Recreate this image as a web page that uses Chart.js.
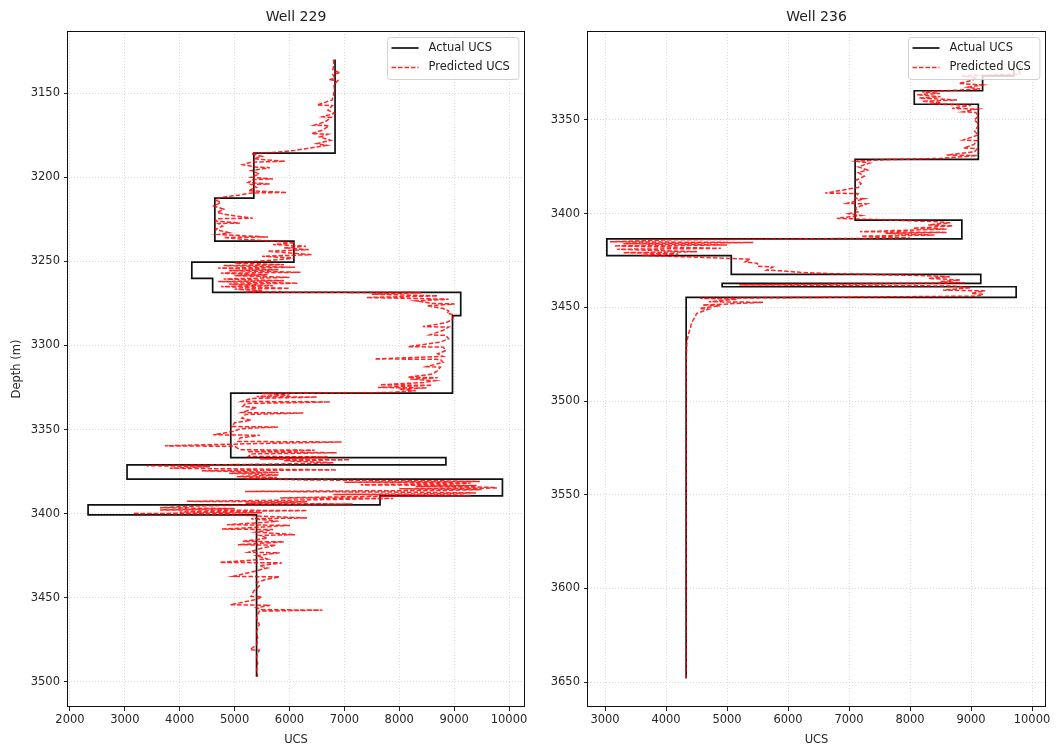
<!DOCTYPE html>
<html><head><meta charset="utf-8">
<script src="https://cdn.jsdelivr.net/npm/chart.js@4.4.1/dist/chart.umd.min.js"></script>
<style>
html,body{margin:0;padding:0;background:#fff;}
#w{position:relative;width:1059px;height:749px;overflow:hidden;}
.c{position:absolute;top:0;height:749px;}
</style></head><body>
<div id="w">
<div class="c" style="left:0;width:530px"><canvas id="c1" width="530" height="749"></canvas></div>
<div class="c" style="left:530px;width:529px"><canvas id="c2" width="529" height="749"></canvas></div>
</div>
<script>
// ---------- Well 229 ----------
const well229ActualDepth = [3130, 3185.6, 3212.4, 3238, 3250.4, 3260.1, 3268.4, 3282.2, 3328.4, 3366.7, 3371.0, 3379.5, 3389.5, 3394.8, 3400.7, 3497];
const well229ActualUcs   = [6830, 5350,   4640,   6080, 4220,   4600,   9120,   8970,   4930,   8850,   3040,   9880,   7650,   2330,   5400,   5400];

const well229PredDepth = [
 3130,3133,3136,3138,3138.4,3141,3142,3142.4,3145,3148,3151,3154,3157,3157.4,3160,3162,3164,3164.4,3167,3169,3169.4,3172,3174,3174.4,3176,3178,3180,3181,3183,3184,3185,3185.6,
 3186,3187.5,3189,3190.5,3191,3192.5,3194,3194.3,3196,3198,3200,3201,3201.3,3203,3204,3204.3,3206,3208,3209,3209.3,3210.5,3211.5,3212.4,
 3213.5,3215,3217,3219,3221,3222.5,3224.3,3224.6,3226,3227.2,3227.5,3229,3231,3233,3234,3235.5,3235.8,3237,3238,
 3239,3240,3241,3242,3243,3244,3245,3246,3247,3248,3249,3250,
 3251,3252,3252.5,3253.5,3254,3255,3255.5,3256.5,3257,3258,3258.5,3259.5,
 3260.5,3261.5,3262,3263,3263.5,3264.5,3265,3266,3266.5,3267.5,3268.2,
 3268.6,3269.5,3270.5,3271.5,3272.5,3273.5,3275,3275.3,3276.5,3278,3279.5,3280.7,3282,
 3284.8,3286.5,3288.8,3289.1,3291,3293.7,3294,3296,3298,3300.7,3301,3303,3305,3306.5,3308,3308.3,3310,3312.6,3312.9,3315,3317,3318.9,3319.2,3320,3321,3322,3323.4,3323.7,3325,3325.3,3326,3327,3328,
 3328.6,3329.5,3330.4,3330.7,3331.5,3333.3,3333.6,3334.5,3336.3,3337,3339.9,3340.2,3341,3343.2,3344.5,3346,3348.2,3348.5,3349.5,3351,3353.1,3353.4,3355,3357.1,3357.4,3358.5,3359.7,3360,3362,3362.3,3363.2,3363.8,3364.5,3366,3366.3,
 3367.5,3368,3368.5,3369.8,3370.5,
 3371.5,3372,3373,3374,3374.5,3375.5,3376,3377,3378,3378.5,3379.2,
 3380,3380.5,3380.9,3381.3,3381.8,3382.3,3382.9,3383.3,3383.8,3384.3,3384.8,3385.2,3385.7,3386.2,3386.8,3387.2,3387.7,3388.2,3388.6,3389,3389.3,
 3390,3390.7,3391,3392,3392.7,3393,3393.8,3394.3,3394.7,
 3395.5,3396.5,3397,3397.8,3398.2,3399,3399.5,3400,3400.4,
 3401.5,3402.6,3403,3404.5,3405.5,3406.6,3407,3408,3409.2,3409.5,3411,3412.5,3413,3414.5,3416.5,3416.8,3418.5,3418.8,3420.5,3423,3423.3,3425,3427,3429,3429.3,3431,3432.3,3434,3437.3,3437.6,3439.3,3441,3443,3446,3449.2,3449.5,3451,3454.2,3454.5,3456,3457.1,3457.4,3458,3462,3466,3470,3474,3478,3480.9,3481.2,3485,3489,3493,3497
];
const well229PredUcs = [
 6800,6810,6790,6920,6780,6830,6720,6880,6810,6820,6800,6780,6500,6780,6700,6820,6600,6760,6650,6450,6720,6600,6400,6700,6550,6750,6500,6680,6300,6100,5800,5400,
 5300,5500,5350,5920,5300,5150,5400,5640,5300,5450,5300,5700,5350,5250,5640,5300,5400,5250,5950,5300,5100,4850,4700,
 4650,4750,4620,4800,4680,4900,5330,4700,4650,5100,4700,4780,4650,4900,4700,5610,4800,5200,5700,
 6100,5700,6300,5900,6350,5600,6000,6400,5500,6100,5800,5400,
 5000,5900,4800,6100,4700,5800,4900,6200,4750,5600,5000,6000,
 4800,5900,4700,6150,4900,5700,4750,6000,5000,5500,5200,
 8400,7500,8700,7400,8900,8300,8600,9010,8500,8800,8900,8870,9000,
 8960,8850,8430,8900,8800,8560,8850,8900,8750,8160,8800,8850,8700,8800,7550,8750,8800,8500,8750,8700,8600,8160,8700,8200,8650,8450,7650,8600,7610,8500,8000,8300,7800,
 5500,6000,5400,6500,5300,5130,6740,5200,5150,5400,5130,6250,5200,5130,5300,5000,4950,5790,5100,5000,4610,5460,5100,5060,6950,5200,3730,5000,5100,6460,5230,6860,5300,5250,6700,
 5460,7100,5900,6800,5800,
 3400,4550,3820,6860,4400,5800,4900,5800,5040,5770,5200,
 6320,8800,9470,7000,9300,9000,7300,9410,8300,9650,9780,8000,9500,8900,5190,7880,9400,8600,6800,9100,9300,
 7000,5830,7890,6000,4130,6320,5200,7150,5500,
 4300,3640,5000,3640,6320,4000,5500,3150,4800,
 5500,6320,5300,5800,5400,4860,6010,5500,4770,5700,5400,6100,5450,5600,5150,5900,5060,5750,5500,5250,5820,5400,5600,4730,5860,5450,5600,5400,4970,5820,5550,5400,5450,5350,5300,5500,5400,4920,5650,5400,5500,6600,5450,5400,5450,5400,5420,5400,5280,5450,5400,5420,5400,5420
];
const well229XTicks = [2000, 3000, 4000, 5000, 6000, 7000, 8000, 9000, 10000];
const well229YTicks = [3150, 3200, 3250, 3300, 3350, 3400, 3450, 3500];

// ---------- Well 236 ----------
const well236ActualDepth = [3320, 3326.5, 3334.4, 3341.6, 3371.0, 3403.4, 3413.5, 3422.4, 3432.4, 3437.2, 3439.0, 3444.7, 3648];
const well236ActualUcs   = [9700, 9190,   8070,   9120,   7100,   8850,   3030,   5070,   9160,   4920,   9740,   4330,   4330];

const well236PredDepth = [
 3320,3322,3324,3325.5,3326.5,3327.5,3329,3330.5,3331.3,3332.5,3333.5,3334.2,
 3335,3335.8,3336.5,3337.6,3338.3,3339.3,3340,3340.8,3341.4,
 3342.2,3343.8,3344.2,3345.6,3346,3348,3350,3352,3354,3356,3358,3360.7,3361,3363,3365,3365.3,3367,3368.7,3369,3370.5,
 3371.3,3372,3373,3375,3376.7,3378,3380,3382,3384,3386,3389,3389.3,3391.8,3392,3394.5,3394.8,3397,3399,3400,3401,3402.5,3403.2,
 3404.3,3404.8,3406,3406.5,3407.8,3408.2,3409.6,3410,3410.5,3411.4,3412,3413,
 3414,3415,3415.4,3416,3416.7,3417.2,3418.5,3419,3420.3,3420.8,3421.5,3422.2,
 3423.9,3424.3,3425.7,3426.5,3428,3428.5,3430.1,3430.5,3431.3,3432,
 3433,3433.7,3434.5,3435.4,3436.2,3437,
 3438,3438.6,
 3439.5,3440.8,3441.2,3442.5,3443,3444,
 3445.2,3445.6,3447,3447.3,3448.8,3449.1,3450.6,3451,3453.3,3455,3458,3461,3464,3467,3470,3480,3500,3550,3600,3648
];
const well236PredUcs = [
 9800,9810,9790,9800,8850,9100,9000,8800,9180,8950,9150,8700,
 8200,8490,8110,8500,8150,8770,8200,8500,8400,
 9000,8690,9100,8870,9080,9120,9050,9130,9100,9060,9120,8870,9100,9050,8880,9100,9060,8600,9100,8500,
 7500,7130,7340,7150,7300,7150,7250,7120,7200,7150,6610,7150,7100,7250,6970,7290,7100,7150,7000,7200,6800,7500,
 8440,8660,8300,8700,8050,8600,7180,8600,7600,8400,7200,8000,
 4000,3080,5430,3300,5000,3150,4900,3200,4510,3300,4200,3600,
 5080,5380,5300,5500,5500,5750,5650,5870,6200,6690,
 8200,8650,8300,8820,8500,8900,
 5200,8700,
 9000,8540,9230,9000,9200,9100,
 4560,5160,4700,5590,4600,4890,4550,4700,4500,4480,4420,4400,4370,4350,4340,4330,4330,4330,4330,4330
];
const well236XTicks = [3000, 4000, 5000, 6000, 7000, 8000, 9000, 10000];
const well236YTicks = [3350, 3400, 3450, 3500, 3550, 3600, 3650];

const seriesLabels = ['Actual UCS', 'Predicted UCS'];

// ---------- drawing ----------
const FONT = '"DejaVu Sans", sans-serif';
Chart.defaults.font.family = FONT;

function pts(depths, vals) { return depths.map((d, i) => ({ x: vals[i], y: d })); }

const framePlugin = {
  id: 'frameAndLegend',
  afterDraw(chart) {
    const ctx = chart.ctx, a = chart.chartArea;
    ctx.save();
    ctx.strokeStyle = '#111';
    ctx.lineWidth = 1;
    ctx.setLineDash([]);
    ctx.strokeRect(Math.round(a.left) - 0.5, Math.round(a.top) + 0.5, Math.round(a.right - a.left) + 1, Math.round(a.bottom - a.top) - 1);
    ctx.font = '11.5px ' + FONT;
    const ds = chart.data.datasets;
    const tw = Math.max(...ds.map(d => ctx.measureText(d.label).width));
    const bw = 41 + tw + 9, bh = 42;
    const bx = Math.round(a.right - 6 - bw) + 0.5, by = Math.round(a.top + 6) + 0.5;
    ctx.beginPath();
    if (ctx.roundRect) ctx.roundRect(bx, by, bw, bh, 3); else ctx.rect(bx, by, bw, bh);
    ctx.fillStyle = 'rgba(255,255,255,0.8)';
    ctx.fill();
    ctx.strokeStyle = 'rgba(204,204,204,0.9)';
    ctx.stroke();
    ds.forEach((d, i) => {
      const yy = by + 10.5 + i * 19.5;
      ctx.beginPath();
      ctx.strokeStyle = d.borderColor;
      ctx.lineWidth = d.borderWidth;
      ctx.setLineDash(d.borderDash || []);
      ctx.moveTo(bx + 4, yy);
      ctx.lineTo(bx + 31, yy);
      ctx.stroke();
      ctx.setLineDash([]);
      ctx.fillStyle = '#222';
      ctx.textBaseline = 'middle';
      ctx.textAlign = 'left';
      ctx.fillText(d.label, bx + 41, yy);
    });
    ctx.restore();
  }
};

function makeChart(canvasId, title, actD, actU, prdD, prdU, xMin, xMax, yMin, yMax, xTicks, yTicks, yAxisWidth, padRight, showYTitle) {
  const tickFont = { family: FONT, size: 11.5 };
  const gridCfg = { color: 'rgba(170,170,170,0.55)', lineWidth: 0.8, tickColor: '#222', tickLength: 4, tickWidth: 1 };
  return new Chart(document.getElementById(canvasId), {
    type: 'scatter',
    data: {
      datasets: [
        { label: seriesLabels[0], data: pts(actD, actU), showLine: true, stepped: 'after', borderColor: '#111', borderWidth: 1.7, pointRadius: 0, order: 2 },
        { label: seriesLabels[1], data: pts(prdD, prdU), showLine: true, borderColor: 'rgba(255,0,0,0.85)', borderWidth: 1.5, borderDash: [4.5, 2], pointRadius: 0, order: 1 }
      ]
    },
    options: {
      responsive: false, animation: false, devicePixelRatio: 1,
      events: [],
      layout: { padding: { left: 0, right: padRight, top: 0, bottom: 0 } },
      plugins: {
        legend: { display: false }, tooltip: { enabled: false },
        title: { display: true, text: title, fullSize: false, color: '#222', font: { family: FONT, size: 14, weight: 'normal' }, padding: { top: 8.6, bottom: 5.6 } }
      },
      scales: {
        x: {
          type: 'linear', min: xMin, max: xMax,
          afterBuildTicks: s => { s.ticks = xTicks.map(v => ({ value: v })); },
          afterFit: s => { s.height = 42; s.paddingLeft = 0; s.paddingRight = 0; },
          grid: gridCfg, border: { display: false, dash: [1, 2] },
          ticks: { font: tickFont, color: '#262626', padding: 2, maxRotation: 0, autoSkip: false, callback: v => String(v) },
          title: { display: true, text: 'UCS', color: '#262626', font: { family: FONT, size: 11.5 }, padding: { top: 0, bottom: 2 } }
        },
        y: {
          type: 'linear', reverse: true, min: yMin, max: yMax,
          afterBuildTicks: s => { s.ticks = yTicks.map(v => ({ value: v })); },
          afterFit: s => { s.width = yAxisWidth; s.paddingTop = 0; s.paddingBottom = 0; },
          grid: gridCfg, border: { display: false, dash: [1, 2] },
          ticks: { font: tickFont, color: '#262626', padding: 4, autoSkip: false, callback: v => String(v) },
          title: { display: showYTitle, text: 'Depth (m)', color: '#262626', font: { family: FONT, size: 11.5 }, padding: { top: 10.1, bottom: 0 } }
        }
      }
    },
    plugins: [framePlugin]
  });
}

makeChart('c1', 'Well 229', well229ActualDepth, well229ActualUcs, well229PredDepth, well229PredUcs,
  1964, 10273, 3113, 3515, well229XTicks, well229YTicks, 68, 6, true);
makeChart('c2', 'Well 236', well236ActualDepth, well236ActualUcs, well236PredDepth, well236PredUcs,
  2721, 10213, 3302.5, 3663.3, well236XTicks, well236YTicks, 58, 14, false);
</script>
</body></html>
